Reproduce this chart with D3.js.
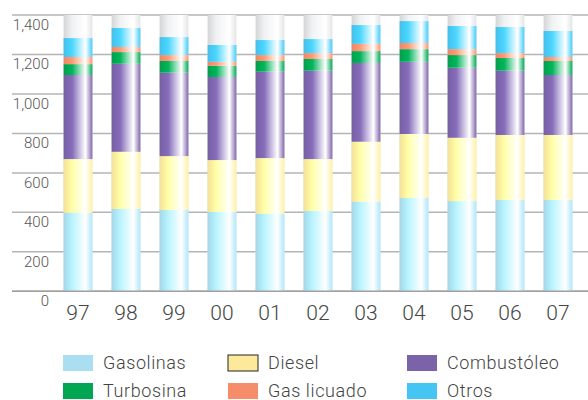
<!DOCTYPE html>
<html>
<head>
<meta charset="utf-8">
<script src="https://cdn.jsdelivr.net/npm/d3@7"></script>
<style>
  body { margin: 0; background: #fff; }
  svg { display: block; font-family: Roboto, "Liberation Sans", sans-serif; }
</style>
</head>
<body>
<svg id="viz"></svg>
<script>
var width = 588;
var height = 400;

// data
var years = ["97", "98", "99", "00", "01", "02", "03", "04", "05", "06", "07"];
var gasolinas  = [398, 417, 412, 402, 393, 407, 454, 473, 457, 463, 463];
var diesel     = [272, 290, 273, 263, 282, 263, 304, 324, 321, 329, 329];
var combustoleo = [426, 446, 423, 421, 438, 448, 399, 366, 355, 326, 304];
var turbosina  = [55, 59, 59, 57, 54, 59, 60, 64, 64, 64, 71];
var gasLicuado = [36, 26, 30, 20, 30, 30, 37, 31, 30, 25, 20];
var otros      = [96, 96, 91, 85, 76, 71, 95, 111, 117, 132, 132];
var yTicks = [0, 200, 400, 600, 800, 1000, 1200, 1400];

var seriesNames = ["Gasolinas", "Diesel", "Combustóleo", "Turbosina", "Gas licuado", "Otros"];
var seriesValues = [gasolinas, diesel, combustoleo, turbosina, gasLicuado, otros];
var seriesColors = ["#a9dff1", "#fde99b", "#7b63aa", "#00a651", "#f68d6a", "#45c5f3"];

var table = years.map(function(y, i) {
  var row = { year: y };
  seriesNames.forEach(function(s, j) { row[s] = seriesValues[j][i]; });
  return row;
});

var svg = d3.select("#viz")
  .attr("width", width)
  .attr("height", height);

var x = d3.scaleBand()
  .domain(years)
  .range([54, 582])
  .paddingInner(0.4)
  .paddingOuter(0.2);

var y = d3.scaleLinear()
  .domain([0, 1400])
  .range([291.3, 15]);

// gradients
var defs = svg.append("defs");
function makeGrad(id, color) {
  var g = defs.append("linearGradient")
    .attr("id", id)
    .attr("x1", "0%").attr("x2", "100%")
    .attr("y1", "0%").attr("y2", "0%");
  var c = d3.color(color);
  g.append("stop").attr("offset", "0%").attr("stop-color", c.darker(0.1));
  g.append("stop").attr("offset", "30%").attr("stop-color", c.brighter(0.25));
  g.append("stop").attr("offset", "76%").attr("stop-color", "#ffffff");
  g.append("stop").attr("offset", "100%").attr("stop-color", c.brighter(0.1));
}
makeGrad("g-bg", "#dcdddf");
seriesColors.forEach(function(c, i) { makeGrad("g" + i, c); });

// grid
svg.append("g")
  .selectAll("line")
  .data(yTicks)
  .enter().append("line")
  .attr("x1", 12)
  .attr("x2", 588)
  .attr("y1", function(d) { return y(d); })
  .attr("y2", function(d) { return y(d); })
  .attr("stroke", "#b4b4b4")
  .attr("stroke-width", 1.5);

// y labels
svg.append("g")
  .selectAll("text")
  .data(yTicks)
  .enter().append("text")
  .attr("x", 49)
  .attr("y", function(d) { return y(d) + 15; })
  .attr("text-anchor", "end")
  .attr("font-size", 15)
  .attr("font-weight", 300)
  .attr("fill", "#555")
  .text(function(d) { return d3.format(",")(d); });

// background columns (gray cap)
svg.append("g")
  .selectAll("rect")
  .data(years)
  .enter().append("rect")
  .attr("x", function(d) { return x(d); })
  .attr("width", x.bandwidth())
  .attr("y", y(1400))
  .attr("height", y(0) - y(1400))
  .attr("fill", "url(#g-bg)");

// stacks
var stack = d3.stack().keys(seriesNames);
var layers = stack(table);

svg.append("g")
  .selectAll("g")
  .data(layers)
  .enter().append("g")
  .attr("fill", function(d, i) { return "url(#g" + i + ")"; })
  .selectAll("rect")
  .data(function(d) { return d; })
  .enter().append("rect")
  .attr("x", function(d) { return x(d.data.year); })
  .attr("width", x.bandwidth())
  .attr("y", function(d) { return y(d[1]); })
  .attr("height", function(d) { return y(d[0]) - y(d[1]); });

// baseline
svg.append("line")
  .attr("x1", 12).attr("x2", 588)
  .attr("y1", y(0)).attr("y2", y(0))
  .attr("stroke", "#a0a0a0")
  .attr("stroke-width", 1.5);

// x labels
svg.append("g")
  .selectAll("text")
  .data(years)
  .enter().append("text")
  .attr("x", function(d) { return x(d) + x.bandwidth() / 2; })
  .attr("y", 320)
  .attr("text-anchor", "middle")
  .attr("font-size", 21)
  .attr("font-weight", 300)
  .attr("fill", "#444")
  .text(function(d) { return d; });

// legend
var legendPos = [[63, 363], [228, 363], [407, 363], [63, 391], [228, 391], [407, 391]];
var legend = svg.append("g")
  .selectAll("g")
  .data(seriesNames)
  .enter().append("g")
  .attr("transform", function(d, i) {
    return "translate(" + legendPos[i][0] + "," + legendPos[i][1] + ")";
  });

legend.append("rect")
  .attr("x", 0)
  .attr("y", -8)
  .attr("width", 30)
  .attr("height", 16)
  .attr("fill", function(d, i) { return seriesColors[i]; })
  .attr("stroke", function(d, i) { return i === 1 ? "#222" : "none"; })
  .attr("stroke-width", 1);

legend.append("text")
  .attr("x", 40)
  .attr("y", 6)
  .attr("font-size", 18)
  .attr("font-weight", 300)
  .attr("letter-spacing", 0.6)
  .attr("fill", "#444")
  .text(function(d) { return d; });
</script>
</body>
</html>
